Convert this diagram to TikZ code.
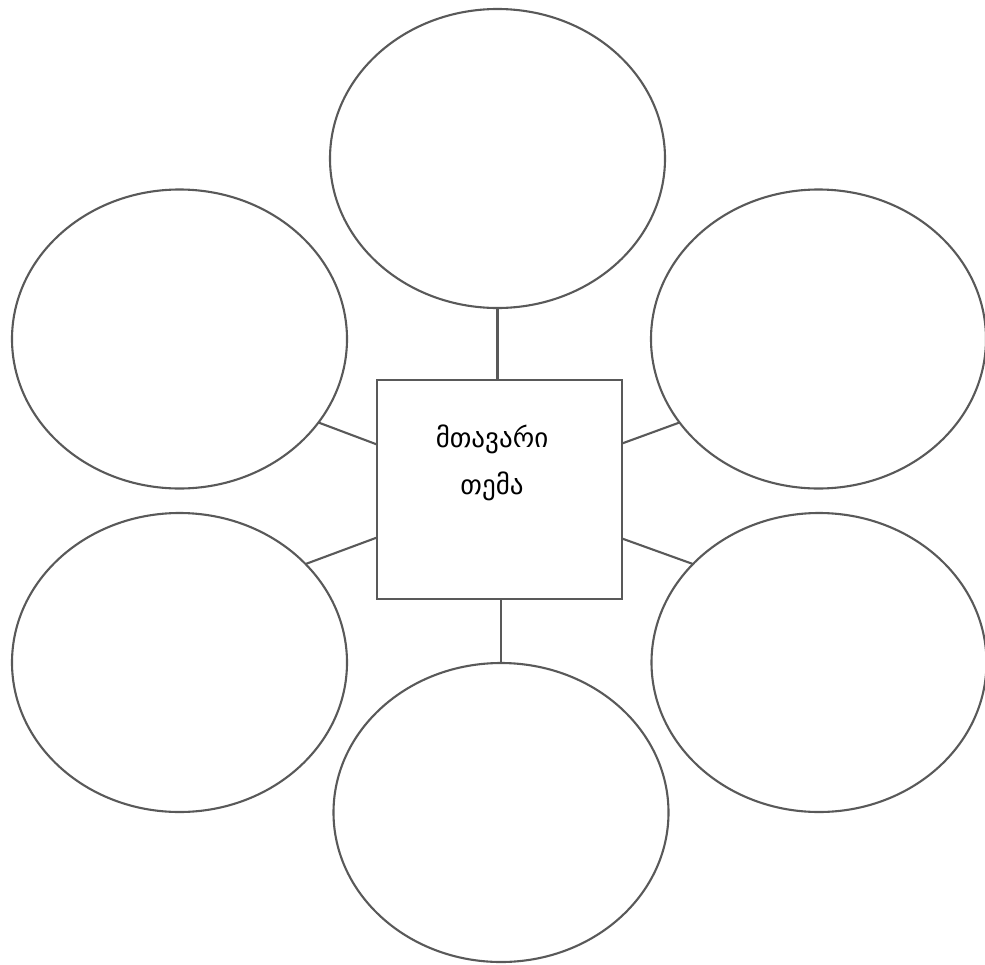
\documentclass[tikz,border=0pt]{standalone}
\usepackage{fontspec}
\usepackage{tikz}
\usetikzlibrary{shapes.geometric, positioning}
\newfontfamily\geofont{DejaVu Sans}
\tikzstyle{bubble} = [ellipse, draw=black!65, line width=2.1pt, fill=white,
    minimum width=335pt, minimum height=299pt, inner sep=0pt, outer sep=0pt]
\tikzstyle{topicbox} = [rectangle, draw=black!65, line width=2.1pt, fill=white,
    minimum width=245pt, minimum height=219pt, inner sep=0pt, outer sep=0pt]
\tikzstyle{link} = [draw=black!65, line width=2.1pt]

\begin{document}
\begin{tikzpicture}[x=1pt, y=-1pt]
  \useasboundingbox (0,0) rectangle (985,964);

  \node (topic) [topicbox] at (499.5,489.5) {};
  \node (title) [align=center, font=\geofont\fontsize{27}{47}\selectfont]
        at (492,463) {მთავარი\\თემა};

  \node (top)    [bubble, above=72pt of topic, xshift=-2pt] {};
  \node (bottom) [bubble, below=64pt of topic, xshift=1.5pt] {};
  \node (upleft)   [bubble] at (179.5,339) {};
  \node (lowleft)  [bubble] at (179.5,662.5) {};
  \node (upright)  [bubble] at (818.5,339) {};
  \node (lowright) [bubble] at (819,662.5) {};

  \draw[link] (top.south) -- (top.south |- topic.north);
  \draw[link] (bottom.north) -- (bottom.north |- topic.south);
  \draw[link] (upleft.-31.7) -- ([yshift=45pt]topic.west);
  \draw[link] (lowleft.38.4) -- ([yshift=-48pt]topic.west);
  \draw[link] (upright.211.7) -- ([yshift=46pt]topic.east);
  \draw[link] (lowright.142.1) -- ([yshift=-49pt]topic.east);

\end{tikzpicture}
\end{document}
